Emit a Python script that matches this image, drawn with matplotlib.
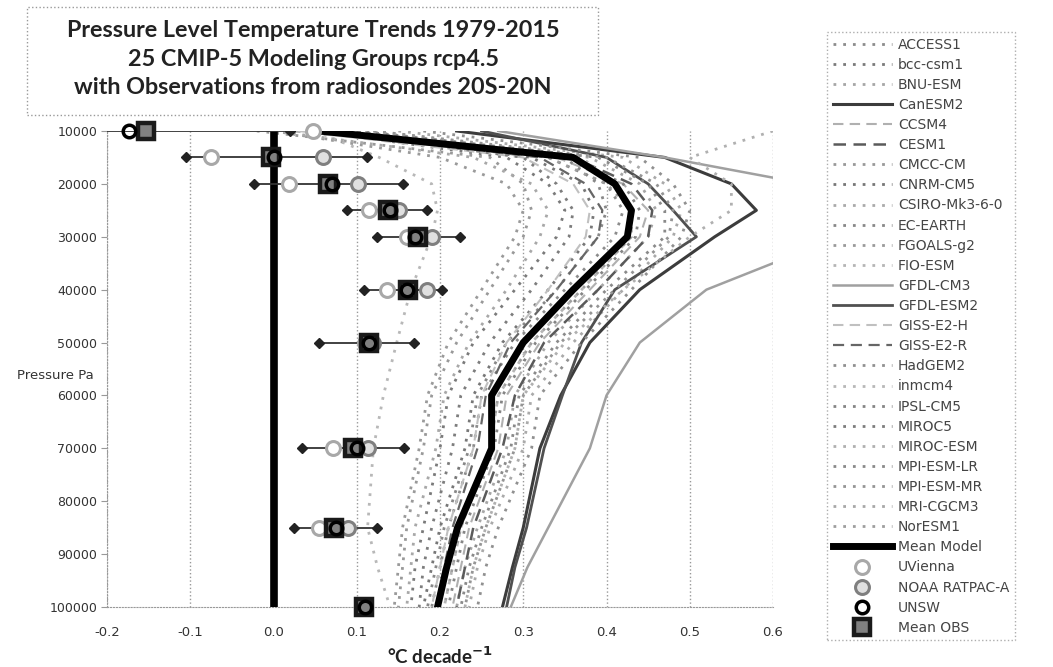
import numpy as np
import matplotlib.pyplot as plt
from matplotlib.patches import Rectangle
from matplotlib.ticker import FormatStrFormatter

plt.rcParams['axes.unicode_minus'] = False

# pressure levels (Pa) of the model profiles
levels = [10000, 15000, 20000, 25000, 30000, 40000, 50000, 60000, 70000, 85000, 92500, 100000]

# model trends, degC per decade
access1   = [0.10, 0.33, 0.40, 0.42, 0.41, 0.35, 0.29, 0.25, 0.24, 0.21, 0.20, 0.19]
bcc_csm1  = [0.05, 0.28, 0.33, 0.35, 0.34, 0.29, 0.24, 0.21, 0.20, 0.18, 0.17, 0.165]
bnu_esm   = [0.12, 0.38, 0.44, 0.46, 0.45, 0.39, 0.33, 0.29, 0.28, 0.245, 0.23, 0.22]
canesm2   = [0.22, 0.47, 0.55, 0.58, 0.53, 0.44, 0.38, 0.345, 0.32, 0.30, 0.287, 0.275]
ccsm4     = [0.02, 0.34, 0.42, 0.45, 0.44, 0.38, 0.32, 0.28, 0.27, 0.235, 0.225, 0.215]
cesm1     = [0.04, 0.36, 0.43, 0.455, 0.45, 0.39, 0.325, 0.29, 0.275, 0.24, 0.23, 0.22]
cmcc_cm   = [-0.02, 0.26, 0.30, 0.31, 0.30, 0.26, 0.22, 0.19, 0.18, 0.16, 0.155, 0.15]
cnrm_cm5  = [0.06, 0.31, 0.37, 0.385, 0.38, 0.33, 0.275, 0.24, 0.23, 0.20, 0.19, 0.18]
csiro     = [0.15, 0.42, 0.47, 0.49, 0.48, 0.42, 0.36, 0.31, 0.30, 0.26, 0.245, 0.235]
ec_earth  = [0.08, 0.35, 0.39, 0.40, 0.39, 0.34, 0.28, 0.245, 0.235, 0.205, 0.195, 0.185]
fgoals_g2 = [0.00, 0.20, 0.28, 0.30, 0.29, 0.25, 0.21, 0.185, 0.175, 0.155, 0.15, 0.145]
fio_esm   = [0.11, 0.37, 0.41, 0.43, 0.43, 0.37, 0.31, 0.27, 0.26, 0.225, 0.215, 0.205]
gfdl_cm3  = [0.27, 0.47, 0.64, 0.72, 0.68, 0.52, 0.44, 0.40, 0.38, 0.33, 0.305, 0.285]
gfdl_esm2 = [0.25, 0.40, 0.45, 0.48, 0.508, 0.41, 0.37, 0.347, 0.325, 0.304, 0.29, 0.28]
giss_e2_h = [0.03, 0.30, 0.36, 0.38, 0.375, 0.33, 0.28, 0.25, 0.24, 0.21, 0.20, 0.19]
giss_e2_r = [0.05, 0.32, 0.375, 0.395, 0.39, 0.34, 0.285, 0.255, 0.245, 0.215, 0.205, 0.195]
hadgem2   = [0.18, 0.44, 0.48, 0.50, 0.49, 0.43, 0.37, 0.32, 0.31, 0.27, 0.255, 0.245]
inmcm4    = [0.05, 0.127, 0.19, 0.197, 0.19, 0.165, 0.148, 0.132, 0.12, 0.113, 0.125, 0.14]
ipsl_cm5  = [0.09, 0.36, 0.42, 0.44, 0.435, 0.375, 0.315, 0.275, 0.265, 0.23, 0.22, 0.21]
miroc5    = [0.07, 0.30, 0.34, 0.36, 0.355, 0.31, 0.26, 0.225, 0.215, 0.19, 0.18, 0.175]
miroc_esm = [0.60, 0.50, 0.55, 0.55, 0.50, 0.42, 0.35, 0.30, 0.29, 0.255, 0.24, 0.23]
mpi_lr    = [0.10, 0.39, 0.45, 0.47, 0.47, 0.40, 0.34, 0.295, 0.285, 0.25, 0.235, 0.225]
mpi_mr    = [0.12, 0.40, 0.46, 0.48, 0.475, 0.41, 0.345, 0.30, 0.29, 0.255, 0.24, 0.23]
mri_cgcm3 = [0.00, 0.24, 0.31, 0.33, 0.32, 0.28, 0.235, 0.205, 0.195, 0.17, 0.165, 0.16]
noresm1   = [0.04, 0.33, 0.40, 0.43, 0.43, 0.37, 0.31, 0.27, 0.26, 0.225, 0.215, 0.205]

mean_model = [0.055, 0.36, 0.41, 0.43, 0.425, 0.36, 0.30, 0.262, 0.262, 0.221, 0.208, 0.197]

# radiosonde observations
obs_levels = [10000, 15000, 20000, 25000, 30000, 40000, 50000, 70000, 85000, 100000]
uvienna   = [0.047, -0.075, 0.019, 0.115, 0.16, 0.136, 0.11, 0.071, 0.055, np.nan]
noaa      = [np.nan, 0.059, 0.101, 0.151, 0.19, 0.184, 0.12, 0.113, 0.09, np.nan]
unsw      = [-0.174, 0.0, 0.07, 0.14, 0.17, 0.16, 0.115, 0.10, 0.075, 0.11]
mean_obs  = [-0.153, -0.003, 0.065, 0.137, 0.173, 0.161, 0.115, 0.095, 0.073, 0.109]
obs_left  = [-0.33, -0.105, -0.023, 0.088, 0.124, 0.109, 0.055, 0.034, 0.025, np.nan]
obs_right = [0.02, 0.112, 0.155, 0.184, 0.224, 0.203, 0.169, 0.157, 0.124, np.nan]

model_names = ['ACCESS1', 'bcc-csm1', 'BNU-ESM', 'CanESM2', 'CCSM4', 'CESM1', 'CMCC-CM',
               'CNRM-CM5', 'CSIRO-Mk3-6-0', 'EC-EARTH', 'FGOALS-g2', 'FIO-ESM', 'GFDL-CM3',
               'GFDL-ESM2', 'GISS-E2-H', 'GISS-E2-R', 'HadGEM2', 'inmcm4', 'IPSL-CM5',
               'MIROC5', 'MIROC-ESM', 'MPI-ESM-LR', 'MPI-ESM-MR', 'MRI-CGCM3', 'NorESM1']
model_data = [access1, bcc_csm1, bnu_esm, canesm2, ccsm4, cesm1, cmcc_cm, cnrm_cm5, csiro,
              ec_earth, fgoals_g2, fio_esm, gfdl_cm3, gfdl_esm2, giss_e2_h, giss_e2_r,
              hadgem2, inmcm4, ipsl_cm5, miroc5, miroc_esm, mpi_lr, mpi_mr, mri_cgcm3, noresm1]

dot = (0, (1, 2.5))
dash = (0, (5, 3))
model_styles = [
    ('#8c8c8c', dot, 2.0), ('#7a7a7a', dot, 2.0), ('#a6a6a6', dot, 2.0),
    ('#3c3c3c', '-', 2.2), ('#b0b0b0', dash, 1.5), ('#5a5a5a', dash, 1.8),
    ('#999999', dot, 2.0), ('#777777', dot, 2.0), ('#aaaaaa', dot, 2.0),
    ('#888888', dot, 2.0), ('#9a9a9a', dot, 2.0), ('#b5b5b5', dot, 2.0),
    ('#a0a0a0', '-', 1.8), ('#505050', '-', 2.0), ('#c0c0c0', dash, 1.5),
    ('#666666', dash, 1.6), ('#909090', dot, 2.0), ('#b8b8b8', dot, 2.0),
    ('#858585', dot, 2.0), ('#7d7d7d', dot, 2.0), ('#b0b0b0', dot, 2.0),
    ('#8a8a8a', dot, 2.0), ('#959595', dot, 2.0), ('#a8a8a8', dot, 2.0),
    ('#9e9e9e', dot, 2.0),
]

fig = plt.figure(figsize=(10.53, 6.67), dpi=100)
ax = fig.add_axes([107/1053, 60/667, 666/1053, 476/667])

for name, vals, (c, ls, lw) in zip(model_names, model_data, model_styles):
    ax.plot(vals, levels, color=c, linestyle=ls, linewidth=lw, label=name, zorder=2)

ax.plot(mean_model, levels, color='black', linewidth=5, label='Mean Model', zorder=4)
ax.axvline(0, color='black', linewidth=5.5, zorder=3)

# error bars with diamond ends
ax.hlines(obs_levels, obs_left, obs_right, color='#333333', linewidth=1.3, zorder=5)
ax.plot(obs_left, obs_levels, 'D', color='#222222', ms=5, ls='none', zorder=5)
ax.plot(obs_right, obs_levels, 'D', color='#222222', ms=5, ls='none', zorder=5)

ax.plot(uvienna, obs_levels, 'o', ms=10, mfc='white', mec='#a8a8a8', mew=2.2, ls='none',
        label='UVienna', zorder=6, clip_on=False)
ax.plot(noaa, obs_levels, 'o', ms=10, mfc='#e0e0e0', mec='#7f7f7f', mew=2.2, ls='none',
        label='NOAA RATPAC-A', zorder=6, clip_on=False)
ax.plot(unsw, obs_levels, 'o', ms=9, mfc='none', mec='black', mew=2.5, ls='none',
        label='UNSW', zorder=8, clip_on=False)
ax.plot(mean_obs, obs_levels, 's', ms=12, mfc='#808080', mec='#1a1a1a', mew=3.2, ls='none',
        label='Mean OBS', zorder=7, clip_on=False)

ax.set_xlim(-0.2, 0.6)
ax.set_ylim(100000, 10000)
ax.set_xticks(np.arange(-0.2, 0.61, 0.1))
ax.set_yticks(range(10000, 100001, 10000))
ax.xaxis.set_major_formatter(FormatStrFormatter('%.1f'))
ax.xaxis.grid(True, linestyle=':', color='#999999', linewidth=1)

for s in ['top', 'right']:
    ax.spines[s].set_visible(False)
for s in ['left', 'bottom']:
    ax.spines[s].set_linestyle(':')
    ax.spines[s].set_color('#999999')

ax.tick_params(axis='x', length=0, pad=14, labelsize=9.5, labelcolor='#333333')
ax.tick_params(axis='y', length=4, pad=3, labelsize=9, color='#999999', labelcolor='#333333')

ax.set_ylabel('Pressure Pa', rotation=0, fontsize=9.5, color='#333333', ha='center', va='center')
ax.yaxis.set_label_coords(-0.078, 0.487)
ax.set_xlabel('°C decade$^{\\mathbf{-1}}$', fontsize=13.5, fontweight='bold', family='Lato',
              color='#222222', labelpad=4)

# title box
fig.patches.append(Rectangle((27/1053, 1 - 115/667), 571/1053, 108/667, transform=fig.transFigure,
                             fill=False, edgecolor='#999999', linestyle=':', linewidth=1))
fig.text(313/1053, 1 - 59/667,
         'Pressure Level Temperature Trends 1979-2015\n25 CMIP-5 Modeling Groups rcp4.5\n'
         'with Observations from radiosondes 20S-20N',
         ha='center', va='center', fontsize=16.8, fontweight='bold', family='Lato',
         linespacing=1.42, color='#222222')

leg = fig.legend(loc='upper left', bbox_to_anchor=(827/1053, 1 - 32/667), fontsize=10,
                 handlelength=4.3, handletextpad=0.4, labelspacing=0.44, borderpad=0.4,
                 borderaxespad=0, frameon=True, fancybox=False, labelcolor='#444444')
leg.get_frame().set_edgecolor('#999999')
leg.get_frame().set_linestyle(':')
leg.get_frame().set_linewidth(1)

fig.savefig('out.png', dpi=100)
